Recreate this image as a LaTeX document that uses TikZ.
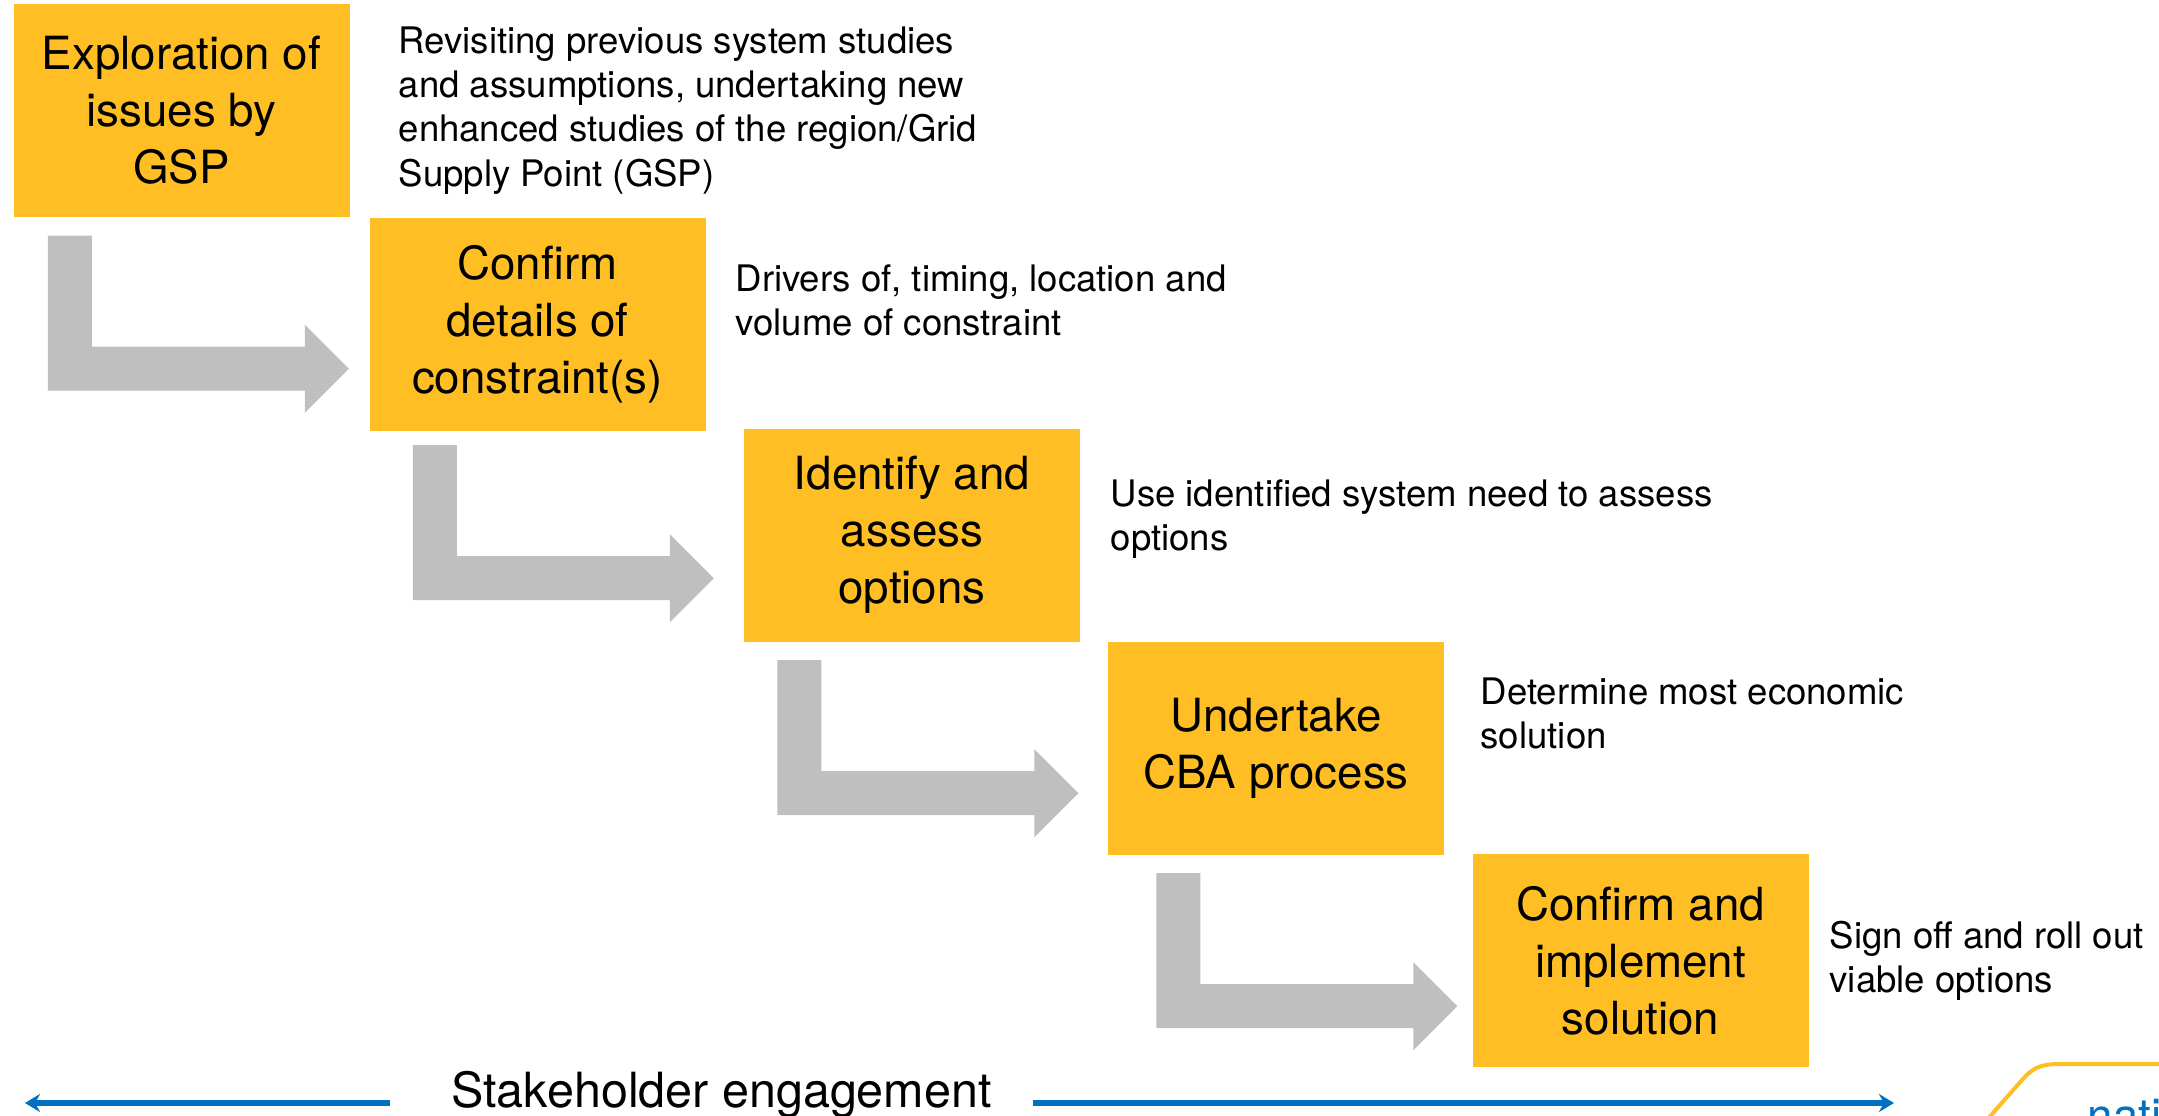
\documentclass[tikz,border=0pt]{standalone}
\usepackage{fontspec}
\setmainfont{TeX Gyre Heros}
\usepackage{tikz}
\usetikzlibrary{arrows.meta, positioning, calc}
\usepackage{xcolor}
\definecolor{boxyellow}{RGB}{254,190,36}
\definecolor{arrowgray}{RGB}{191,191,191}
\definecolor{lineblue}{RGB}{0,112,192}

\begin{document}
\begin{tikzpicture}[
        x=0.1mm, y=-0.1mm,
        stepbox/.style={rectangle, fill=boxyellow, minimum width=33.6mm, minimum height=21.3mm, inner sep=0pt, align=center, font=\fontsize{13}{16.2}\selectfont},
        note/.style={anchor=north west, inner sep=0pt, align=left, font=\fontsize{10.4}{12.6}\selectfont},
        bentarrow/.style={fill=arrowgray},
        engage/.style={draw=lineblue, line width=0.6mm},
        >={Stealth[length=1.5mm, width=1.8mm]}
      ]
      \useasboundingbox (0,0) rectangle (2159,1116);
      \clip (0,0) rectangle (2159,1116);

      % Process steps
      \node [stepbox] (explore) at (181.5,110.5) {Exploration of\\issues by\\GSP};
      \node [stepbox] (confirm) at (537.5,324) {Confirm\\details of\\constraint(s)};
      \node [stepbox] (identify) at (912,535) {Identify and\\assess\\options};
      \node [stepbox] (cba) at (1276,748) {Undertake\\CBA process};
      \node [stepbox] (implement) at (1640.5,960.5) {Confirm and\\implement\\solution};

      % Descriptions
      \node [note] (exploretext) at (398,26) {Revisiting previous system studies\\and assumptions, undertaking new\\enhanced studies of the region/Grid\\Supply Point (GSP)};
      \node [note] (confirmtext) at (735,264) {Drivers of, timing, location and\\volume of constraint};
      \node [note] (identifytext) at (1110,479) {Use identified system need to assess\\options};
      \node [note] (cbatext) at (1480,677) {Determine most economic\\solution};
      \node [note] (implementtext) at (1829,920) {Sign off and roll out\\viable options};

      % Bent arrows between the steps
      \fill[bentarrow] ($(explore.south west)+(35,18)$) -- ++(44,0) -- ++(0,111) -- ++(213,0) -- ++(0,-22) -- ++(44,44) -- ++(-44,44) -- ++(0,-22) -- ++(-257,0) -- cycle;
      \fill[bentarrow] ($(confirm.south west)+(44,14)$) -- ++(44,0) -- ++(0,111) -- ++(213,0) -- ++(0,-22) -- ++(44,44) -- ++(-44,44) -- ++(0,-22) -- ++(-257,0) -- cycle;
      \fill[bentarrow] ($(identify.south west)+(34,18)$) -- ++(44,0) -- ++(0,111) -- ++(213,0) -- ++(0,-22) -- ++(44,44) -- ++(-44,44) -- ++(0,-22) -- ++(-257,0) -- cycle;
      \fill[bentarrow] ($(cba.south west)+(49,18)$) -- ++(44,0) -- ++(0,111) -- ++(213,0) -- ++(0,-22) -- ++(44,44) -- ++(-44,44) -- ++(0,-22) -- ++(-257,0) -- cycle;

      % Stakeholder engagement
      \node [anchor=base, inner sep=0pt, font=\fontsize{13.8}{16}\selectfont] (stake) at (721.5,1107) {Stakeholder engagement};
      \coordinate (leftstart) at (390,1103);
      \coordinate (leftend) at (25,1103);
      \coordinate (rightstart) at (1033,1103);
      \coordinate (rightend) at (1894,1103);
      \draw[engage, ->] (leftstart) -- (leftend);
      \draw[engage, ->] (rightstart) -- (rightend);

      % Cut-off shape in the corner
      \draw[boxyellow, line width=0.4mm] (1985,1122) -- (2022,1080) .. controls (2036,1064) and (2045,1064) .. (2067,1064) -- (2170,1064);
      \node [anchor=base west, inner sep=0pt, text=lineblue, font=\fontsize{13}{16}\selectfont] (corner) at (2087,1131) {nati};

    \end{tikzpicture}
\end{document}
